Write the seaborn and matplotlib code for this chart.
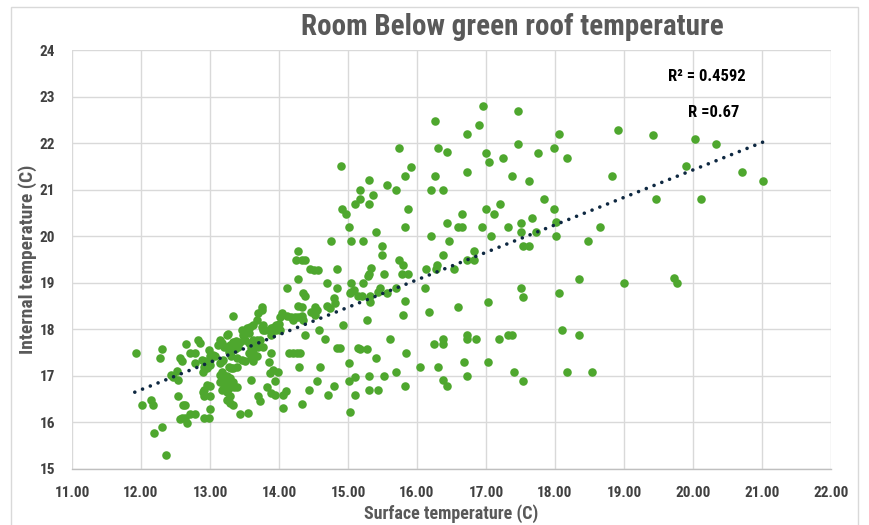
import numpy as np
import pandas as pd
import matplotlib
matplotlib.use("Agg")
import matplotlib.pyplot as plt
import seaborn as sns
from matplotlib import font_manager
from matplotlib.patches import Rectangle
from matplotlib.ticker import MultipleLocator

# ---------------- data ----------------
surface_r1 = [11.93, 12.01, 12.14, 12.18, 12.19, 12.31, 12.36, 12.31, 12.27, 12.57,
              12.59, 12.65, 12.71, 12.78, 12.83, 12.86, 12.78, 12.52, 12.44, 12.47,
              12.53, 12.53, 12.64, 12.61, 12.59, 12.64, 12.56, 12.66, 12.71, 12.78,
              12.91, 12.99, 13.00, 12.91, 12.91, 13.00, 12.90, 12.95, 13.00, 12.91,
              12.89, 12.93, 13.17, 13.22, 13.15, 13.24, 13.29, 13.34, 13.27, 13.35,
              13.39, 13.24, 13.29, 13.34, 13.43, 13.34, 13.39, 13.17, 13.27, 13.14,
              13.24, 13.12, 13.34, 13.05, 13.00, 13.17, 13.20, 13.25, 13.29, 13.33,
              13.38, 13.43, 13.40, 13.36, 13.31, 13.26, 12.98, 13.00, 13.07, 13.14,
              13.19, 13.31, 13.39, 13.27, 13.31, 13.14, 13.24, 13.29, 13.20, 13.17,
              13.25, 12.95, 12.90, 13.00, 13.29]
internal_r1 = [17.49, 16.38, 16.48, 16.38, 15.78, 15.90, 15.29, 17.58, 17.38, 17.39,
               17.31, 17.69, 17.49, 17.49, 17.77, 17.71, 17.28, 17.10, 17.02, 16.97,
               16.91, 16.57, 16.38, 16.38, 16.09, 16.09, 16.07, 15.98, 16.18, 16.18,
               16.09, 16.09, 16.29, 16.70, 16.57, 16.79, 17.09, 17.17, 17.24, 17.20,
               17.34, 17.31, 17.09, 16.99, 16.86, 16.86, 16.86, 16.86, 16.73, 16.77,
               16.77, 16.48, 16.41, 16.38, 16.18, 17.16, 17.19, 17.31, 17.52, 17.77,
               17.88, 17.67, 18.29, 17.45, 17.34, 17.70, 17.62, 17.62, 17.67, 17.72,
               17.76, 17.72, 17.62, 17.58, 17.55, 17.90, 17.56, 17.42, 17.42, 17.27,
               17.34, 17.42, 17.38, 17.20, 17.17, 17.02, 16.99, 16.95, 16.80, 16.70,
               16.65, 16.81, 16.66, 16.56, 16.56]

surface_r2 = [13.68, 13.63, 13.58, 13.53, 13.51, 13.48, 13.75, 13.80, 13.89, 13.51,
              13.63, 13.68, 13.56, 13.60, 13.56, 13.51, 13.60, 13.92, 13.87, 13.70,
              13.82, 13.89, 14.75, 14.28, 14.25, 14.33, 14.38, 14.45, 14.51, 14.57,
              14.84, 14.28, 14.11, 14.70, 14.84, 14.35, 14.37, 14.79, 14.81, 14.70,
              14.74, 14.52, 14.55, 14.47, 14.52, 14.28, 14.33, 14.11, 14.18, 14.23,
              14.28, 14.33, 14.20, 14.35, 13.76, 13.75, 13.70, 13.47, 13.57, 13.77,
              13.77, 13.93, 13.96, 14.00, 14.02, 13.96, 13.91, 13.88, 13.63, 13.68,
              13.72, 13.65, 13.70, 13.77, 13.63, 13.60, 13.46, 13.89, 13.86, 14.15,
              14.21, 14.26, 14.30, 14.29, 13.98, 13.94, 13.94, 13.72, 13.55, 14.06,
              14.10, 14.06, 14.33, 14.43, 14.55, 14.59, 14.67, 14.84, 14.88, 14.58,
              14.37, 14.80, 14.71, 14.01, 14.05]
internal_r2 = [18.20, 18.10, 18.06, 18.03, 17.95, 17.88, 18.06, 17.99, 18.03, 17.31,
               17.31, 17.42, 17.49, 17.60, 17.70, 17.77, 16.91, 17.13, 17.06, 16.56,
               16.77, 16.63, 19.89, 19.69, 19.50, 19.48, 19.48, 19.30, 19.28, 19.28,
               19.30, 19.09, 18.89, 18.99, 18.89, 18.79, 18.71, 18.67, 18.56, 18.50,
               18.45, 18.49, 18.42, 18.38, 18.31, 18.50, 18.49, 18.29, 18.26, 18.26,
               18.26, 18.28, 18.20, 18.20, 18.49, 18.42, 18.35, 17.98, 17.93, 18.10,
               17.99, 18.05, 18.10, 18.12, 17.99, 17.99, 17.99, 17.88, 17.77, 17.77,
               17.77, 17.63, 17.63, 17.63, 17.49, 17.38, 17.34, 17.49, 17.29, 17.49,
               17.49, 17.49, 17.49, 17.19, 17.09, 16.88, 16.59, 16.47, 16.20, 16.59,
               16.68, 16.30, 16.39, 16.70, 16.89, 17.20, 17.80, 17.60, 17.60, 17.99,
               17.88, 16.79, 16.59, 18.27, 18.35]

surface_r3 = [14.93, 15.02, 15.10, 15.01, 15.10, 15.03, 15.15, 15.03, 15.08, 15.05,
              16.26, 15.74, 16.30, 16.43, 14.90, 15.91, 15.83, 16.26, 15.31, 15.57,
              15.70, 15.18, 15.36, 15.18, 15.10, 15.31, 16.21, 16.38, 14.91, 14.97,
              15.87, 15.02, 15.83, 16.43, 15.40, 15.22, 15.49, 15.49, 16.21, 16.47,
              16.38, 15.74, 15.79, 16.13, 16.29, 16.28, 15.34, 15.31, 15.29, 15.52,
              15.78, 15.87, 16.53, 15.05, 15.05, 15.22, 15.20, 15.14, 15.32, 15.32,
              15.46, 15.44, 15.56, 15.70, 16.12, 15.83, 16.17, 16.60, 15.27, 15.79,
              15.61, 15.17, 15.27, 15.40, 15.84, 16.25, 16.38, 16.38, 15.70, 16.04,
              16.30, 15.31, 15.52, 16.38, 16.43, 15.31, 15.44, 15.83, 16.60]
internal_r3 = [18.10, 17.27, 16.98, 16.88, 16.59, 16.23, 17.60, 18.78, 18.85, 19.89,
               22.48, 21.90, 21.90, 21.80, 21.50, 21.49, 21.29, 21.29, 21.20, 21.09,
               21.00, 21.00, 20.89, 20.79, 20.69, 20.69, 21.00, 21.00, 20.59, 20.48,
               20.59, 20.20, 20.20, 20.28, 20.09, 19.89, 19.80, 19.59, 20.00, 19.89,
               19.59, 19.50, 19.39, 19.30, 19.39, 19.30, 19.32, 19.19, 19.15, 19.19,
               19.19, 19.19, 19.30, 18.99, 18.81, 18.99, 18.71, 18.71, 18.71, 18.58,
               18.89, 18.81, 18.79, 18.89, 18.89, 18.60, 18.38, 18.49, 18.19, 18.30,
               17.79, 17.58, 17.58, 17.38, 17.49, 17.69, 17.79, 17.69, 17.09, 17.19,
               17.19, 16.99, 16.99, 16.91, 16.79, 16.70, 16.70, 16.79, 20.20]

surface_r4 = [16.95, 17.46, 16.90, 16.73, 18.06, 17.46, 17.00, 17.04, 17.24, 17.76,
              17.98, 18.18, 16.73, 17.37, 17.63, 17.84, 17.98, 16.65, 16.65, 17.00,
              17.12, 17.20, 16.94, 17.07, 17.32, 17.50, 17.50, 17.67, 17.72, 18.01,
              18.01, 17.54, 17.63, 18.65, 18.48, 16.82, 16.73, 16.82, 18.35, 17.50,
              17.54, 18.06, 17.03, 16.73, 16.73, 16.86, 17.19, 17.32, 17.37, 18.10,
              18.35, 16.68, 17.03, 16.73, 17.41, 17.54, 18.18, 18.53]
internal_r4 = [22.79, 22.68, 22.38, 22.20, 22.20, 21.99, 21.79, 21.59, 21.69, 21.79,
               21.89, 21.69, 21.39, 21.29, 21.19, 20.79, 20.59, 20.48, 20.20, 20.59,
               20.48, 20.69, 20.20, 20.00, 20.20, 20.28, 20.09, 20.39, 20.09, 20.30,
               20.00, 19.80, 19.80, 20.20, 19.89, 19.69, 19.48, 19.48, 19.09, 18.89,
               18.69, 18.79, 18.59, 17.88, 17.79, 17.79, 17.79, 17.88, 17.88, 17.99,
               17.88, 17.29, 17.29, 16.99, 17.09, 16.89, 17.09, 17.09]

surface_r5 = [18.91, 19.42, 20.03, 20.33, 19.90, 18.83, 20.71, 21.01, 19.47, 20.11,
              19.00, 19.72, 19.77]
internal_r5 = [22.29, 22.18, 22.09, 21.98, 21.50, 21.30, 21.39, 21.19, 20.79, 20.79,
               18.99, 19.10, 18.99]

x_ticks = [11.0, 12.0, 13.0, 14.0, 15.0, 16.0, 17.0, 18.0, 19.0, 20.0, 21.0, 22.0]
y_ticks = [15, 16, 17, 18, 19, 20, 21, 22, 23, 24]

# Excel trendline (start/end of the dotted line)
trend_x = [11.91, 21.01]
trend_y = [16.65, 22.02]

title = "Room Below green roof temperature"
x_label = "Surface temperature (C)"
y_label = "Internal temperature (C)"
r2_text = "R\u00b2 = 0.4592"
r_text = "R =0.67"

# ---------------- build table ----------------
surface = surface_r1 + surface_r2 + surface_r3 + surface_r4 + surface_r5
internal = internal_r1 + internal_r2 + internal_r3 + internal_r4 + internal_r5
df = pd.DataFrame({"surface": surface, "internal": internal})
trend = pd.DataFrame({"surface": trend_x, "internal": trend_y})

# ---------------- style ----------------
sns.set_theme(style="white")
names = {f.name for f in font_manager.fontManager.ttflist}
main_font = None
for cand in ["Liberation Sans Narrow", "Roboto Condensed", "Open Sans Condensed", "Roboto", "Liberation Sans"]:
    if cand in names:
        main_font = cand
        break
plt.rcParams["font.family"] = [main_font, "DejaVu Sans"] if main_font else ["DejaVu Sans"]

green = "#4EA72E"
navy = "#0E2841"
grid_c = "#D9D9D9"
text_c = "#595959"
tick_c = "#404040"

fig = plt.figure(figsize=(8.69, 5.25), dpi=100)
ax = fig.add_axes([72 / 869, 1 - 469 / 525, (831 - 72) / 869, (469 - 50) / 525])

sns.scatterplot(data=df, x="surface", y="internal", ax=ax, color=green,
                s=38, linewidth=0, zorder=3, legend=False)

sns.lineplot(data=trend, x="surface", y="internal", ax=ax, color=navy, lw=2.6,
             linestyle=(0, (0.01, 2.3)), dash_capstyle="round", zorder=4,
             legend=False)

ax.set_xlim(11, 22)
ax.set_ylim(15, 24)
ax.set_xticks(x_ticks)
ax.set_xticklabels([f"{v:.2f}" for v in x_ticks])
ax.set_yticks(y_ticks)
ax.set_yticklabels([str(v) for v in y_ticks])
ax.xaxis.set_minor_locator(MultipleLocator(0.1))

ax.grid(True, which="major", color=grid_c, lw=1.0, zorder=0)
for s in ["top", "right", "left"]:
    ax.spines[s].set_visible(False)
ax.spines["bottom"].set_color("#BFBFBF")
ax.spines["bottom"].set_linewidth(1.0)

ax.tick_params(axis="x", which="major", length=4, width=0.8, color="#BFBFBF",
               direction="out", pad=8, labelsize=11, labelcolor=tick_c)
ax.tick_params(axis="x", which="minor", length=4, width=0.8, color="#BFBFBF",
               direction="out")
ax.tick_params(axis="y", which="major", length=0, pad=12, labelsize=11, labelcolor=tick_c)
for lab in ax.get_xticklabels() + ax.get_yticklabels():
    lab.set_fontweight("bold")

ax.set_xlabel(x_label, fontsize=13, fontweight="bold", color=text_c)
ax.set_ylabel(y_label, fontsize=14, fontweight="bold", color=text_c)
ax.yaxis.set_label_coords(-(72 - 37) / (831 - 72), 0.5)
ax.xaxis.set_label_coords(0.5, -(504 - 469) / (469 - 50))

ax.text(19.64, 23.43, r2_text, fontsize=12, fontweight="bold", color="black",
        ha="left", va="center", zorder=5)
ax.text(19.93, 22.66, r_text, fontsize=12, fontweight="bold", color="black",
        ha="left", va="center", zorder=5)

fig.text(512 / 869, 1 - 27 / 525, title, fontsize=21, fontweight="bold",
         color=text_c, ha="center", va="center")

fig.patches.append(Rectangle((11 / 869, -0.02), (858 - 11) / 869, 1.02 - 7 / 525,
                             transform=fig.transFigure, fill=False,
                             edgecolor=grid_c, lw=1.0))

fig.savefig("out.png", dpi=100)
